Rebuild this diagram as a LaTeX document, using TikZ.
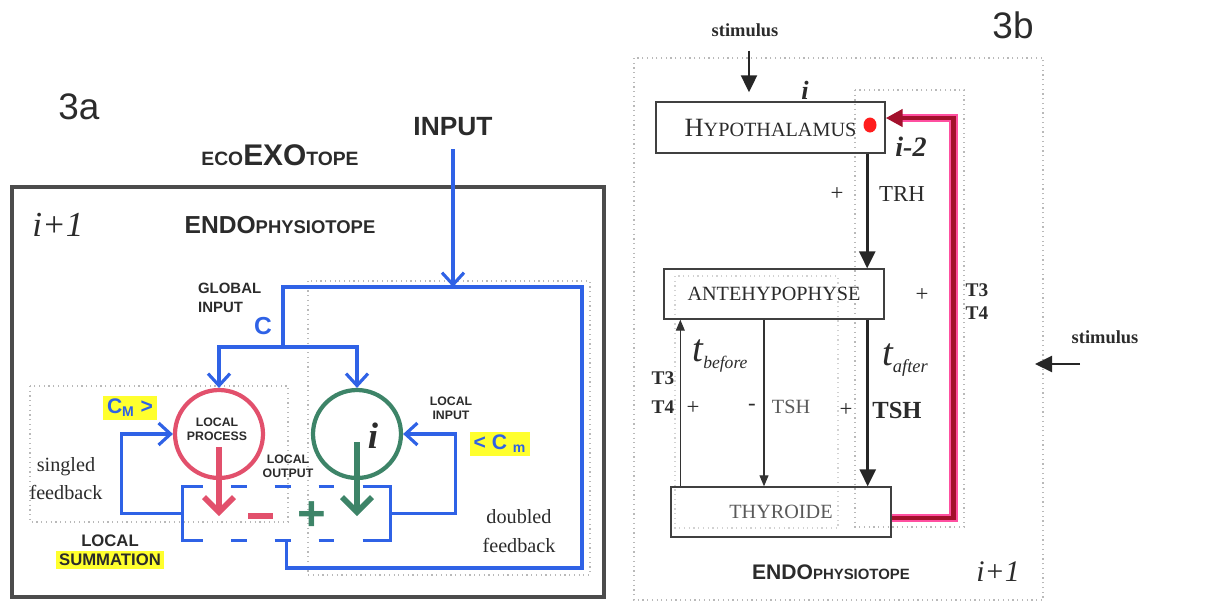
\documentclass[tikz,border=0pt]{standalone}
\usepackage{fontspec}
\setmainfont{Liberation Serif}
\setsansfont{Liberation Sans}
\usetikzlibrary{arrows.meta,positioning,shapes.geometric}
\definecolor{flowblue}{HTML}{2F62E6}
\definecolor{procred}{HTML}{E2506C}
\definecolor{procgreen}{HTML}{3D8468}
\definecolor{hlyellow}{HTML}{FFFF2E}
\definecolor{glowpink}{HTML}{FF4FA0}
\definecolor{corered}{HTML}{A3102C}
\definecolor{ink}{HTML}{2B2B2B}

\begin{document}
\begin{tikzpicture}[x=0.02cm,y=-0.02cm,node distance=1pt,
  every node/.style={align=center,inner sep=1pt,text=ink},
  bline/.style={draw=flowblue,line width=1.8pt},
  barrow/.style={bline,-{Straight Barb[length=2.4mm,width=4.4mm]}},
  dotbox/.style={draw=gray!55,dotted,line width=0.7pt},
  ring/.style={circle,draw,line width=2.4pt,minimum size=1.76cm,inner sep=0pt},
  outarrow/.style={line width=3.2pt,-{Straight Barb[length=3mm,width=6mm]}},
  organ/.style={draw=black!75,line width=0.8pt,minimum width=4.4cm,minimum height=1cm,font=\fontsize{11.5}{11.5}\selectfont},
  hormone/.style={draw=black!85,line width=1.6pt,-{Triangle[length=3.4mm,width=3.2mm]}},
  thinhormone/.style={draw=black!80,line width=0.6pt,-{Triangle[length=2.2mm,width=1.8mm]}},
  hl/.style={fill=hlyellow,inner sep=2pt},
  tag/.style={font=\sffamily\bfseries\fontsize{7}{8}\selectfont},
  sign/.style={font=\fontsize{13}{13}\selectfont}]
\useasboundingbox (0,0) rectangle (1223,606);

\draw[draw=black!70,line width=2.6pt] (12,187) rectangle (604,597);
\draw[dotbox] (30,386) rectangle (288,522);
\draw[dotbox] (308,281) rectangle (590,575);

\node[font=\sffamily\fontsize{21}{21}\selectfont] (fig3a) at (79,107) {3a};
\node[font=\sffamily\bfseries\fontsize{15}{15}\selectfont] (input) at (453,127) {INPUT};
\node[font=\sffamily\bfseries\fontsize{11}{11}\selectfont] (exo) at (280,155) {ECO{\fontsize{17}{17}\selectfont EXO}TOPE};
\node[font=\itshape\fontsize{20}{20}\selectfont] (lvl) at (58,225) {i+1};
\node[font=\sffamily\bfseries\fontsize{10.5}{10.5}\selectfont] (endo) at (280,225) {{\fontsize{14}{14}\selectfont ENDO}PHYSIOTOPE};

\node[ring,draw=procred] (proc) at (219,434) {};
\node[ring,draw=procgreen] (idx) at (357,434) {};
\node[tag] (proctxt) at (217,429) {LOCAL\\PROCESS};
\node[font=\bfseries\itshape\fontsize{21}{21}\selectfont] (ilab) at (373,436) {i};
\node[tag] (outtxt) at (288,466) {LOCAL\\OUTPUT};
\node[tag] (intxt) at (451,408) {LOCAL\\INPUT};
\node[font=\sffamily\bfseries\fontsize{8.5}{11}\selectfont,align=left,anchor=west] (gin) at (196,298) {GLOBAL\\INPUT};
\node[font=\sffamily\bfseries\fontsize{14}{14}\selectfont,text=flowblue] (cglob) at (263,326) {C};
\node[hl,font=\sffamily\bfseries\fontsize{12}{12}\selectfont,text=flowblue] (cmax) at (130,408) {C\textsubscript{M} >};
\node[hl,font=\sffamily\bfseries\fontsize{12}{12}\selectfont,text=flowblue] (cmin) at (500,444) {< C \textsubscript{m}};
\node[font=\fontsize{11.5}{16}\selectfont] (single) at (66,479) {singled\\feedback};
\node[font=\fontsize{11.5}{16.5}\selectfont] (double) at (519,531) {doubled\\feedback};
\node[hl,font=\sffamily\bfseries\fontsize{9.5}{9.5}\selectfont] (summ) at (110,560) {SUMMATION};
\node[font=\sffamily\bfseries\fontsize{9.5}{9.5}\selectfont,above=1pt of summ] (loc) {LOCAL};

\coordinate (split) at (283,347);
\coordinate (looptl) at (283,287);
\coordinate (looptr) at (582,287);
\coordinate (loopbr) at (582,568);
\node[minimum width=4.14cm,minimum height=1.06cm,inner sep=0pt] (sum) at (286.5,513.5) {};
\node[fill=procred,minimum width=0.5cm,minimum height=0.13cm,inner sep=0pt] (minus) at (260,516) {};
\node[font=\sffamily\bfseries\fontsize{28}{28}\selectfont,text=procgreen,inner sep=0pt] (plus) at (312,516) {+};

\draw[barrow] ([yshift=-0.22cm]input.south) -- (input |- looptl);
\draw[bline] (split) -- (looptl) -- (looptr) -- (loopbr) -| (sum.south);
\draw[barrow] (split) -| (proc.north);
\draw[barrow] (split) -| (idx.north);
\draw[barrow] (sum.west) -- ++(-61,0) |- (proc.west);
\draw[barrow] (sum.east) -- ++(65,0) |- (idx.east);
\draw[bline] ([xshift=0.4cm]sum.north west) -- (sum.north west) -- (sum.south west) -- ([xshift=0.4cm]sum.south west);
\draw[bline] ([xshift=-0.4cm]sum.north east) -- (sum.north east) -- (sum.south east) -- ([xshift=-0.4cm]sum.south east);
\draw[bline,dash pattern=on 9pt off 16pt,dash phase=9pt] ([xshift=0.4cm]sum.north west) -- ([xshift=-0.4cm]sum.north east);
\draw[bline,dash pattern=on 9pt off 16pt,dash phase=9pt] ([xshift=0.4cm]sum.south west) -- ([xshift=-0.4cm]sum.south east);
\draw[outarrow,draw=procred] ([yshift=-0.26cm]proc.center) -- (proc.center |- minus);
\draw[outarrow,draw=procgreen] ([yshift=-0.16cm]idx.center) -- (idx.center |- plus);

\draw[dotbox] (634,58) rectangle (1043,600);
\draw[dotbox] (855,90) rectangle (964,527);
\draw[dotbox,draw=gray!35] (675,276) rectangle (838,528);

\node[font=\sffamily\fontsize{21}{21}\selectfont] (fig3b) at (1013,25) {3b};
\node[organ,minimum width=4.58cm,minimum height=1.02cm] (hyp) at (770.5,127.5) {\fontsize{15}{15}\selectfont H\fontsize{11.5}{11.5}\selectfont YPOTHALAMUS};
\node[organ] (ante) at (774,294) {ANTEHYPOPHYSE};
\node[organ,text=black!65] (thy) at (781,512) {THYROIDE};
\node[ellipse,fill=red!85!pink,minimum width=0.26cm,minimum height=0.3cm,inner sep=0pt] (dot) at (870,125) {};

\node[font=\bfseries\fontsize{10.5}{10.5}\selectfont] (stim) at (745,30) {stimulus};
\node[font=\bfseries\fontsize{10.5}{10.5}\selectfont] (stimr) at (1105,337) {stimulus};
\coordinate (stimfrom) at (1080,364);
\coordinate (stimto) at (1035,364);

\draw[glowpink,line width=5pt,shorten >=3mm] ([yshift=-0.12cm]thy.east) -- ++(62,0) |- ([yshift=0.19cm]hyp.east);
\draw[corered,line width=2.6pt,-{Triangle[length=3.4mm,width=3.4mm]}] ([yshift=-0.12cm]thy.east) -- ++(62,0) |- ([yshift=0.19cm]hyp.east);
\draw[hormone] ([xshift=-0.37cm]hyp.south east) -- ([xshift=-0.37cm]hyp.south east |- ante.north);
\draw[hormone] ([xshift=-0.34cm]ante.south east) -- ([xshift=-0.34cm]ante.south east |- thy.north);
\draw[thinhormone] ([xshift=-0.2cm]ante.south) -- ([xshift=-0.2cm]ante.south |- thy.north);
\draw[thinhormone] ([xshift=0.2cm]thy.north west) -- ([xshift=0.2cm]thy.north west |- ante.south);
\draw[hormone,line width=1.2pt,shorten >=1.8mm] ([xshift=0.08cm,yshift=-0.24cm]stim.south) -- ([xshift=0.08cm]stim.south |- hyp.north);
\draw[hormone,line width=1.2pt] (stimfrom) -- (stimto);

\node[font=\bfseries\itshape\fontsize{15}{15}\selectfont] (itop) at (805,90) {i};
\node[font=\bfseries\itshape\fontsize{16}{16}\selectfont] (im2) at (911,147) {i-2};
\node[sign] (p1) at (837,194) {+};
\node[font=\fontsize{13}{13}\selectfont] (trh) at (902,194) {TRH};
\node[sign] (p2) at (922,295) {+};
\node[font=\bfseries\fontsize{11}{13}\selectfont] (t34r) at (977,302) {T3\\T4};
\node[font=\itshape\fontsize{22}{22}\selectfont] (tbef) at (720,356) {t\raisebox{-0.4ex}{\fontsize{10}{10}\selectfont before}};
\node[font=\bfseries\fontsize{11}{16.5}\selectfont] (t34l) at (663,393) {T3\\T4};
\node[sign] (p3) at (693,408) {+};
\node[sign] (m1) at (752,407) {-};
\node[font=\fontsize{11.5}{11.5}\selectfont,text=black!65] (tsh1) at (791,407) {TSH};
\node[sign] (p4) at (846,410) {+};
\node[font=\bfseries\fontsize{14}{14}\selectfont] (tsh2) at (897,410) {TSH};
\node[font=\itshape\fontsize{22}{22}\selectfont] (taft) at (905,360) {t\raisebox{-0.4ex}{\fontsize{10.5}{10.5}\selectfont after}};
\node[font=\sffamily\bfseries\fontsize{8.5}{8.5}\selectfont] (endo2) at (831,572) {{\fontsize{12}{12}\selectfont ENDO}PHYSIOTOPE};
\node[font=\itshape\fontsize{17}{17}\selectfont] (lvl2) at (998,572) {i+1};
\end{tikzpicture}
\end{document}
